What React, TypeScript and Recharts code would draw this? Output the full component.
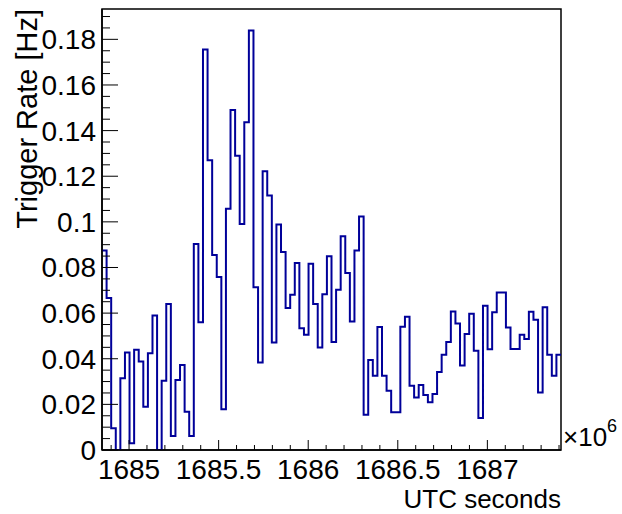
import { LineChart, Line, XAxis, YAxis, ReferenceArea } from 'recharts';

// histogram range (x10^6 UTC seconds), 100 equal bins
const X_MIN = 1684.849;
const X_MAX = 1687.411;
const N_BINS = 100;
const Y_MAX = 0.1933;

// trigger rate per bin [Hz]
const RATE = [
  0.0874, 0.0666, 0.0095, 0, 0.0315, 0.0427, 0.003, 0.0439, 0.0388, 0.019,
  0.0424, 0.059, 0, 0.0303, 0.064, 0.0061, 0.0307, 0.0373, 0.0168, 0.0061,
  0.0903, 0.056, 0.1756, 0.127, 0.0855, 0.0758, 0.0179, 0.1057, 0.149, 0.129,
  0.0991, 0.1437, 0.1839, 0.0713, 0.0383, 0.1222, 0.1115, 0.0471, 0.0988, 0.0868,
  0.0622, 0.068, 0.082, 0.0534, 0.0505, 0.0816, 0.064, 0.0449, 0.0683, 0.0849,
  0.0473, 0.0702, 0.0937, 0.0776, 0.0563, 0.0875, 0.1024, 0.0154, 0.0395, 0.0326,
  0.0539, 0.0326, 0.026, 0.0165, 0.0165, 0.054, 0.0584, 0.0282, 0.023, 0.0285,
  0.0241, 0.0209, 0.0246, 0.0342, 0.0417, 0.0473, 0.0607, 0.0555, 0.037, 0.0508,
  0.0597, 0.0435, 0.014, 0.0632, 0.0442, 0.0604, 0.069, 0.069, 0.0537, 0.0443,
  0.0443, 0.0505, 0.0486, 0.0606, 0.0571, 0.0252, 0.0626, 0.0417, 0.0326, 0.0417,
];

const X_MAJOR = [1685, 1685.5, 1686, 1686.5, 1687];
const Y_MAJOR = [0, 0.02, 0.04, 0.06, 0.08, 0.1, 0.12, 0.14, 0.16, 0.18];

const FONT = '"Liberation Sans", Arial, Helvetica, sans-serif';
const LINE_COLOR = '#000099';

const binWidth = (X_MAX - X_MIN) / N_BINS;

// bin left edges + closing point at the right edge, drawn as steps
const data = RATE.map((rate, i) => ({ t: X_MIN + i * binWidth, rate }));
data.push({ t: X_MAX, rate: RATE[RATE.length - 1] });

function minorTicks(from: number, to: number, step: number) {
  const out: number[] = [];
  for (let v = from; v <= to + 1e-9; v += step) out.push(Math.round(v * 1000) / 1000);
  return out;
}

const xTicks = minorTicks(1684.9, 1687.4, 0.1);
const yTicks = minorTicks(0, 0.19, 0.005);

const isMajor = (v: number, majors: number[]) => majors.some((m) => Math.abs(m - v) < 1e-6);

function XTick(props: any) {
  const { x, y, payload } = props;
  const major = isMajor(payload.value, X_MAJOR);
  return (
    <g>
      <line x1={x} x2={x} y1={y} y2={y - (major ? 10 : 5)} stroke="#000" strokeWidth={1} />
      {major && (
        <text x={x} y={y + 29} textAnchor="middle" fontSize={28} fontFamily={FONT} fill="#000">
          {String(payload.value)}
        </text>
      )}
    </g>
  );
}

function YTick(props: any) {
  const { x, y, payload } = props;
  const major = isMajor(payload.value, Y_MAJOR);
  return (
    <g>
      <line x1={x} x2={x + (major ? 16 : 8)} y1={y} y2={y} stroke="#000" strokeWidth={1} />
      {major && (
        <text x={x - 6} y={y + 10} textAnchor="end" fontSize={28} fontFamily={FONT} fill="#000">
          {String(parseFloat(payload.value.toFixed(3)))}
        </text>
      )}
    </g>
  );
}

export default function App() {
  return (
    <div style={{ position: 'absolute', left: 0, top: 0, width: 622, height: 514, background: '#fff' }}>
      <LineChart width={622} height={514} data={data} margin={{ top: 9, right: 61, bottom: 0, left: 0 }}>
        <XAxis
          dataKey="t"
          type="number"
          domain={[X_MIN, X_MAX]}
          allowDataOverflow
          ticks={xTicks}
          interval={0}
          tickSize={0}
          tickMargin={0}
          tickLine={false}
          height={64}
          axisLine={{ stroke: '#000', strokeWidth: 1.5 }}
          tick={<XTick />}
        />
        <YAxis
          type="number"
          domain={[0, Y_MAX]}
          allowDataOverflow
          ticks={yTicks}
          interval={0}
          tickSize={0}
          tickMargin={0}
          tickLine={false}
          width={102}
          axisLine={{ stroke: '#000', strokeWidth: 1.5 }}
          tick={<YTick />}
        />
        <ReferenceArea
          x1={X_MIN}
          x2={X_MAX}
          y1={0}
          y2={Y_MAX}
          fill="none"
          fillOpacity={0}
          stroke="#000"
          strokeWidth={1.5}
        />
        <Line
          type="stepAfter"
          dataKey="rate"
          stroke={LINE_COLOR}
          strokeWidth={2}
          dot={false}
          isAnimationActive={false}
        />
      </LineChart>
      <svg
        width={622}
        height={514}
        style={{ position: 'absolute', left: 0, top: 0, pointerEvents: 'none' }}
      >
        <text
          transform="translate(37, 9) rotate(-90)"
          textAnchor="end"
          fontSize={29}
          fontFamily={FONT}
          fill="#000"
        >
          Trigger Rate [Hz]
        </text>
        <text x={561} y={508} textAnchor="end" fontSize={26} fontFamily={FONT} fill="#000">
          UTC seconds
        </text>
        <text x={563} y={446} fontSize={26} fontFamily={FONT} fill="#000">
          ×10
          <tspan x={607} y={432} fontSize={18}>
            6
          </tspan>
        </text>
      </svg>
    </div>
  );
}
